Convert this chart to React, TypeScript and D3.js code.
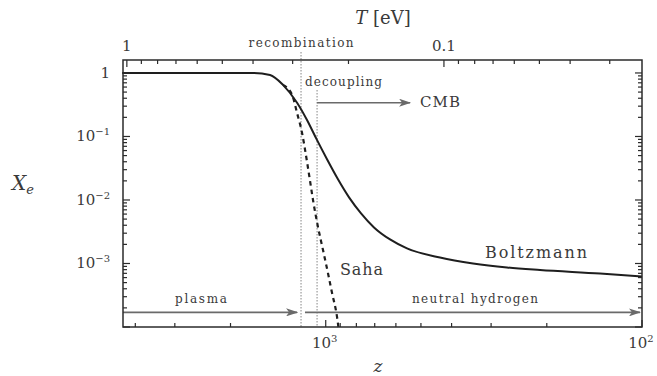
import * as d3 from "d3";

// ---- data ----
// Boltzmann (solid) curve
const boltzZ = [4400, 1695, 1500, 1365, 1232, 1146, 1065, 990.6, 914.6, 843.9, 773.3, 703.6, 626.1, 553.4, 435.2, 342.1, 267.2, 210.1, 135.7, 100];
const boltzXe = [1, 1, 0.93, 0.65, 0.34, 0.182, 0.0875, 0.0438, 0.0212, 0.011, 0.00616, 0.0037, 0.00239, 0.00173, 0.00124, 0.001, 0.000865, 0.00079, 0.000695, 0.000624];

// Saha (dashed) curve
const sahaZ = [1365, 1277, 1232, 1188, 1162, 1121, 1097, 1058, 1020, 984, 955, 921, 912];
const sahaXe = [0.65, 0.45, 0.234, 0.1135, 0.061, 0.02, 0.01, 0.00376, 0.00163, 0.00071, 0.000343, 0.000144, 0.0001];

// events
const zRecombination = 1197;
const zDecoupling = 1065;

// axis ticks / labels
const zMajorTicks = [1000, 100];
const zMajorExp = ["3", "2"];
const xeMajorTicks = [1, 0.1, 0.01, 0.001];
const xeMajorLabels = [["1", ""], ["10", "−1"], ["10", "−2"], ["10", "−3"]];
const tMajorTicks = [1, 0.1];
const tMajorLabels = ["1", "0.1"];

const zDomain = [4375, 100];
const xeDomain = [1e-4, 1.6];
const T0 = 2.35e-4; // eV today, T = T0 (1 + z)

const W = 657;
const H = 376;
const margin = { top: 60, right: 15, bottom: 49, left: 123 };
const ink = "#2b2b2b";
const grey = "#6a6a6a";
const textInk = "#3a3a3a";
const font = "'DejaVu Serif', 'Liberation Serif', serif";

export default function App() {
  const iw = W - margin.left - margin.right;
  const ih = H - margin.top - margin.bottom;

  const x = d3.scaleLog().domain(zDomain).range([0, iw]);
  const y = d3.scaleLog().domain(xeDomain).range([ih, 0]);
  const t = d3
    .scaleLog()
    .domain([T0 * (1 + zDomain[0]), T0 * (1 + zDomain[1])])
    .range([0, iw]);

  const line = d3
    .line<[number, number]>()
    .x((d) => x(d[0]))
    .y((d) => y(d[1]))
    .curve(d3.curveMonotoneX);

  const boltz = boltzZ.map((z, i) => [z, boltzXe[i]] as [number, number]);
  const saha = sahaZ.map((z, i) => [z, sahaXe[i]] as [number, number]);

  const isMajor = (v: number) => Math.abs(Math.log10(v) - Math.round(Math.log10(v))) < 1e-6;
  const majLen = 7;
  const minLen = 4;

  const zTicks = x.ticks();
  const xeTicks = y.ticks();
  const tTicks = t.ticks();

  const arrowY = y(1.7e-4);
  const cmbY = y(0.34);

  return (
    <div style={{ position: "fixed", left: 0, top: 0 }}>
      <svg width={W} height={H} style={{ display: "block", background: "#fff" }}>
        <defs>
          <marker id="head" viewBox="0 0 12 8" refX="11" refY="4" markerWidth="12" markerHeight="8" markerUnits="userSpaceOnUse" orient="auto">
            <path d="M0,0 L12,4 L0,8 L3,4 Z" fill={grey} />
          </marker>
        </defs>
        <g transform={`translate(${margin.left},${margin.top})`} fontFamily={font} fill={ink}>
          {/* event lines */}
          <line x1={x(zRecombination)} x2={x(zRecombination)} y1={-8} y2={ih} stroke="#9a9a9a" strokeWidth={1.2} strokeDasharray="1.5 1.5" />
          <line x1={x(zDecoupling)} x2={x(zDecoupling)} y1={y(0.54)} y2={ih} stroke="#9a9a9a" strokeWidth={1.2} strokeDasharray="1.5 1.5" />

          {/* curves */}
          <path d={line(boltz)!} fill="none" stroke="#1e1e1e" strokeWidth={2} />
          <path d={line(saha)!} fill="none" stroke="#1e1e1e" strokeWidth={2.2} strokeDasharray="4.5 4" />

          {/* arrows */}
          <line x1={0} x2={x(1232)} y1={arrowY} y2={arrowY} stroke={grey} strokeWidth={1.6} markerEnd="url(#head)" />
          <line x1={x(1163)} x2={x(101.5)} y1={arrowY} y2={arrowY} stroke={grey} strokeWidth={1.6} markerEnd="url(#head)" />
          <line x1={x(zDecoupling)} x2={x(541)} y1={cmbY} y2={cmbY} stroke={grey} strokeWidth={1.6} markerEnd="url(#head)" />

          {/* frame */}
          <rect x={0} y={0} width={iw} height={ih} fill="none" stroke={ink} strokeWidth={1.5} />

          {/* z ticks (bottom) */}
          {zTicks.map((v) => (
            <line key={"zb" + v} x1={x(v)} x2={x(v)} y1={ih} y2={ih - (isMajor(v) ? majLen : minLen)} stroke={ink} strokeWidth={1.2} />
          ))}
          {/* T ticks (top) */}
          {tTicks.map((v) => (
            <line key={"tt" + v} x1={t(v)} x2={t(v)} y1={0} y2={isMajor(v) ? majLen : minLen} stroke={ink} strokeWidth={1.2} />
          ))}
          {/* Xe ticks (left + right) */}
          {xeTicks.map((v) => (
            <g key={"xe" + v}>
              <line x1={0} x2={isMajor(v) ? majLen : minLen} y1={y(v)} y2={y(v)} stroke={ink} strokeWidth={1.2} />
              <line x1={iw} x2={iw - (isMajor(v) ? majLen : minLen)} y1={y(v)} y2={y(v)} stroke={ink} strokeWidth={1.2} />
            </g>
          ))}

          {/* Xe tick labels */}
          {xeMajorTicks.map((v, i) => (
            <text key={"xl" + v} x={-13} y={y(v) + 5} textAnchor="end" fontSize={15} fill={textInk}>
              {xeMajorLabels[i][0]}
              {xeMajorLabels[i][1] && (
                <tspan fontSize={10} dy={-6}>
                  {xeMajorLabels[i][1]}
                </tspan>
              )}
            </text>
          ))}

          {/* z tick labels */}
          {zMajorTicks.map((v, i) => (
            <text key={"zl" + v} x={x(v) - 1} y={ih + 21} textAnchor="middle" fontSize={15} fill={textInk}>
              10
              <tspan fontSize={10} dy={-6}>
                {zMajorExp[i]}
              </tspan>
            </text>
          ))}

          {/* T tick labels */}
          {tMajorTicks.map((v, i) => (
            <text key={"tl" + v} x={t(v)} y={-9} textAnchor="middle" fontSize={15} fill={textInk}>
              {tMajorLabels[i]}
            </text>
          ))}

          {/* axis titles */}
          <text x={383 - margin.left} y={24 - margin.top} textAnchor="middle" fontSize={18} fill={textInk}>
            <tspan fontStyle="italic">T</tspan> [eV]
          </text>
          <text x={378 - margin.left} y={372 - margin.top} textAnchor="middle" fontSize={17} fontStyle="italic" fill={textInk}>
            z
          </text>
          <text x={12 - margin.left} y={190 - margin.top} fontSize={20} fontStyle="italic" fill={textInk}>
            X<tspan fontSize={13} dy={4}>e</tspan>
          </text>

          {/* annotations */}
          <text x={x(zRecombination)} y={47 - margin.top} textAnchor="middle" fontSize={12} textLength={105} lengthAdjust="spacing" fill={textInk}>
            recombination
          </text>
          <text x={305 - margin.left} y={86 - margin.top} fontSize={12} textLength={77} lengthAdjust="spacing" fill={textInk}>
            decoupling
          </text>
          <text x={420 - margin.left} y={107 - margin.top} fontSize={15} textLength={40} lengthAdjust="spacing" fill={textInk}>
            CMB
          </text>
          <text x={175 - margin.left} y={303 - margin.top} fontSize={12} textLength={52} lengthAdjust="spacing" fill={textInk}>
            plasma
          </text>
          <text x={412 - margin.left} y={303 - margin.top} fontSize={12} textLength={126} lengthAdjust="spacing" fill={textInk}>
            neutral hydrogen
          </text>
          <text x={340 - margin.left} y={275 - margin.top} fontSize={16} textLength={43} lengthAdjust="spacing" fill={textInk}>
            Saha
          </text>
          <text x={485 - margin.left} y={258 - margin.top} fontSize={16} textLength={102} lengthAdjust="spacing" fill={textInk}>
            Boltzmann
          </text>
        </g>
      </svg>
    </div>
  );
}
